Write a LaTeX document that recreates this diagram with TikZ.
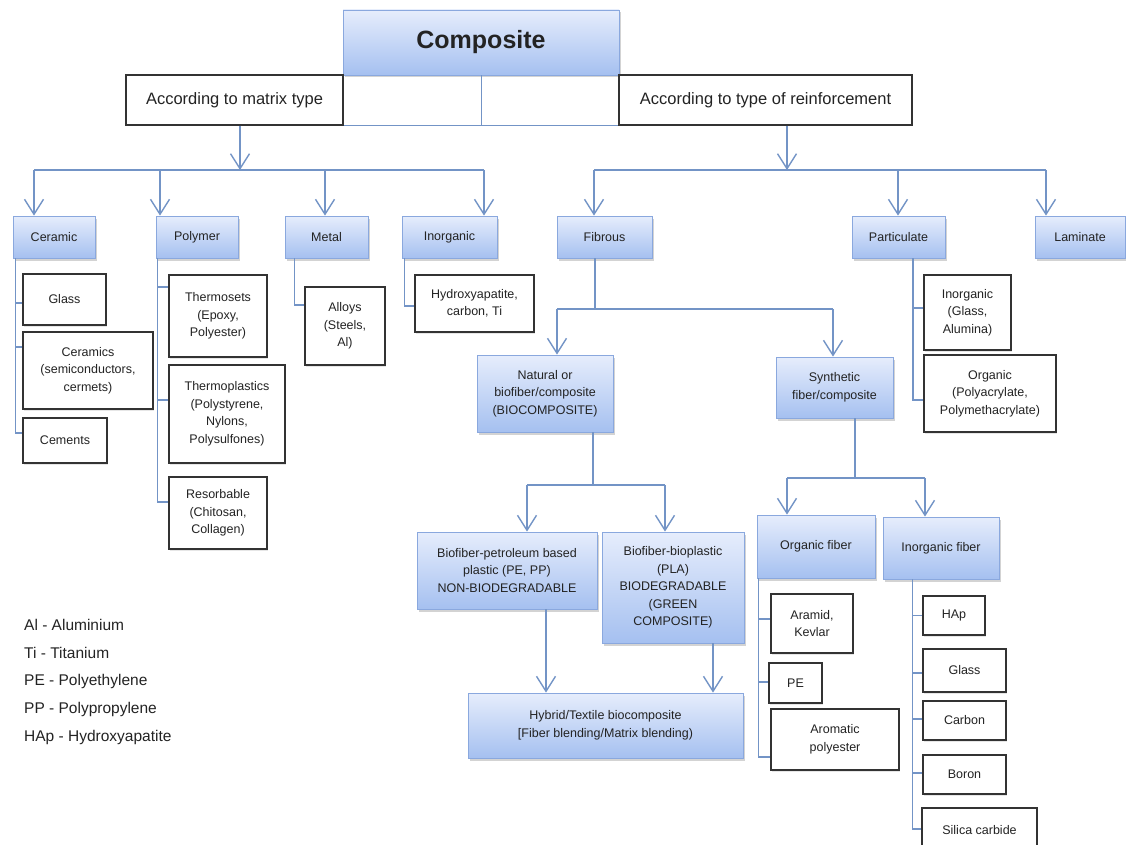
\documentclass[tikz,border=0pt]{standalone}
\usepackage{fontspec}
\setmainfont{Liberation Sans}
\usetikzlibrary{positioning, shapes, arrows.meta, calc, shadows}

\definecolor{linkblue}{RGB}{115,148,198}
\definecolor{boxtop}{RGB}{230,237,252}
\definecolor{boxbottom}{RGB}{165,192,240}
\definecolor{boxedge}{RGB}{138,168,222}
\definecolor{textgray}{RGB}{35,35,35}

\tikzset{
  bluebox/.style={draw=boxedge, line width=0.8pt, top color=boxtop, bottom color=boxbottom,
    text=textgray, align=center, inner sep=2pt, font=\fontsize{12.5}{17.5}\selectfont,
    drop shadow={shadow xshift=1.5pt, shadow yshift=-2.5pt, opacity=0.35}},
  whitebox/.style={draw=black!80, line width=1.3pt, fill=white, text=textgray, align=center,
    inner sep=2pt, font=\fontsize{12.5}{17.5}\selectfont,
    drop shadow={shadow xshift=1pt, shadow yshift=-1.5pt, opacity=0.2}},
  headbox/.style={whitebox, font=\fontsize{16.5}{20}\selectfont, minimum height=50pt},
  link/.style={draw=linkblue, line width=1.4pt},
  arr/.style={link, -{Straight Barb[length=15pt, width=19pt]}},
  legend/.style={anchor=west, inner sep=0pt, text=textgray, font=\fontsize{15.5}{18}\selectfont}
}

\begin{document}
\begin{tikzpicture}[x=1pt, y=-1pt]
\useasboundingbox (0,0) rectangle (1126,845);

% Nodes
\node[bluebox, minimum width=276pt, minimum height=65pt, font=\fontsize{25}{30}\selectfont\bfseries] (composite) at (481,42.5) {Composite};
\node[headbox, minimum width=217pt] (bymatrix) at (234.5,100) {According to matrix type};
\node[headbox, minimum width=293pt] (byreinf) at (765.5,100) {According to type of reinforcement};

\foreach \nm/\x/\w/\txt in {ceramic/54/82/Ceramic, polymer/197/82/Polymer, metal/326.5/83/Metal,
    inorg/449.5/95/Inorganic, fibrous/604.5/95/Fibrous, partic/898.5/93/Particulate, laminate/1080/90/Laminate}
  \node[bluebox, minimum width=\w pt, minimum height=42pt] (\nm) at (\x,237) {\txt};

\foreach \nm/\x/\y/\w/\h/\txt in {
    natural/545/393.5/136/77/{Natural or\\biofiber/composite\\(BIOCOMPOSITE)},
    synth/834.5/387.5/117/61/{Synthetic\\fiber/composite},
    petro/507/570.5/180/77/{Biofiber-petroleum based\\plastic (PE, PP)\\NON-BIODEGRADABLE},
    biopl/673/587.5/142/111/{Biofiber-bioplastic\\(PLA)\\BIODEGRADABLE\\(GREEN\\COMPOSITE)},
    hybrid/605.5/725.5/275/65/{Hybrid/Textile biocomposite\\{[}Fiber blending/Matrix blending)},
    orgfib/816/546.5/118/63/{Organic fiber},
    inorgfib/941/548/116/62/{Inorganic fiber}}
  \node[bluebox, minimum width=\w pt, minimum height=\h pt] (\nm) at (\x,\y) {\txt};

\foreach \nm/\x/\y/\w/\h/\txt in {
    glass/64.5/299.5/83/51/{Glass},
    ceramics/88/370.5/130/77/{Ceramics\\(semiconductors,\\cermets)},
    cements/65/440.5/84/45/{Cements},
    thermosets/218/316/98/82/{Thermosets\\(Epoxy,\\Polyester)},
    thermoplast/227/414/116/98/{Thermoplastics\\(Polystyrene,\\Nylons,\\Polysulfones)},
    resorb/218/513/98/72/{Resorbable\\(Chitosan,\\Collagen)},
    alloys/345/326/80/78/{Alloys\\(Steels,\\Al)},
    hydroxy/474.5/303.5/119/57/{Hydroxyapatite,\\carbon, Ti},
    partinorg/967.5/312.5/87/75/{Inorganic\\(Glass,\\Alumina)},
    partorg/990/393.5/132/77/{Organic\\(Polyacrylate,\\Polymethacrylate)},
    aramid/812/623.5/82/59/{Aramid,\\Kevlar},
    pe/795.5/683/53/40/{PE},
    aromatic/835/739.5/128/61/{Aromatic\\polyester},
    hap/954/615.5/62/39/{HAp},
    fglass/964.5/670.5/83/43/{Glass},
    carbon/964.5/720.5/83/39/{Carbon},
    boron/964.5/774.5/83/39/{Boron},
    silica/979.5/830/115/44/{Silica carbide}}
  \node[whitebox, minimum width=\w pt, minimum height=\h pt] (\nm) at (\x,\y) {\txt};

\foreach \txt [count=\i] in {Al - Aluminium, Ti - Titanium, PE - Polyethylene, PP - Polypropylene, HAp - Hydroxyapatite}
  \node[legend] (legend\i) at (24,{625+28*(\i-1)}) {\txt};

% Arrows
\draw[link, line width=1pt] (composite.south) -- (composite.south |- bymatrix.south);
\draw[link, line width=1pt] (bymatrix.south east) -- (byreinf.south west);

\coordinate (mbar) at (240,170);
\coordinate (rbar) at (787,170);
\coordinate (mL) at (34,170);
\coordinate (mR) at (484,170);
\coordinate (rL) at (594,170);
\coordinate (rR) at (1046,170);
\draw[arr] (bymatrix.south -| mbar) -- (mbar);
\draw[arr] (byreinf.south -| rbar) -- (rbar);
\draw[link] (mL) -- (mR);
\draw[link] (rL) -- (rR);
\foreach \nm/\x in {ceramic/34, polymer/160, metal/325, inorg/484, fibrous/594, partic/898, laminate/1046}
  \draw[arr] (\x,170) -- (\nm.north -| \x,0);

\foreach \nm/\dy in {glass/-3.5, ceramics/23.5, cements/7.5}
  \draw[link] ([xshift=3pt]ceramic.south west) |- ([yshift=\dy pt]\nm.west);
\foreach \nm/\dy in {thermosets/29, thermoplast/14, resorb/11}
  \draw[link] ([xshift=2pt]polymer.south west) |- ([yshift=\dy pt]\nm.west);
\draw[link] ([xshift=10pt]metal.south west) |- ([yshift=21pt]alloys.west);
\draw[link] ([xshift=3pt]inorg.south west) |- ([yshift=-2.5pt]hydroxy.west);
\foreach \nm/\dy in {partinorg/4.5, partorg/-6.5}
  \draw[link] ([xshift=14.5pt]partic.south) |- ([yshift=\dy pt]\nm.west);
\foreach \nm/\dy in {aramid/4.5, pe/1, aromatic/-17.5}
  \draw[link] ([xshift=2pt]orgfib.south west) |- ([yshift=\dy pt]\nm.west);
\foreach \nm/\dy in {hap/0, fglass/-2.5, carbon/1.5, boron/1.5, silica/1}
  \draw[link] ([xshift=30pt]inorgfib.south west) |- ([yshift=\dy pt]\nm.west);

\coordinate (fL) at (557,309);
\coordinate (fR) at (833,309);
\draw[link] ([xshift=-9.5pt]fibrous.south) |- (fL);
\draw[link] (fL) -- (fR);
\draw[arr] (fL) -- (natural.north -| fL);
\draw[arr] (fR) -- (synth.north -| fR);

\coordinate (nL) at (527,485);
\coordinate (nR) at (665,485);
\draw[link] ([xshift=48pt]natural.south) -- ([xshift=48pt]natural.south |- nL);
\draw[link] (nL) -- (nR);
\draw[arr] (nL) -- (petro.north -| nL);
\draw[arr] (nR) -- (biopl.north -| nR);

\coordinate (sL) at (787,478);
\coordinate (sR) at (925,478);
\draw[link] ([xshift=20.5pt]synth.south) -- ([xshift=20.5pt]synth.south |- sL);
\draw[link] (sL) -- (sR);
\draw[arr] (sL) -- (orgfib.north -| sL);
\draw[arr] (sR) -- (inorgfib.north -| sR);

\draw[arr] ([xshift=39pt]petro.south) -- ([xshift=39pt]petro.south |- hybrid.north);
\draw[arr] ([xshift=40pt]biopl.south) -- ([xshift=40pt]biopl.south |- hybrid.north);
\end{tikzpicture}
\end{document}
